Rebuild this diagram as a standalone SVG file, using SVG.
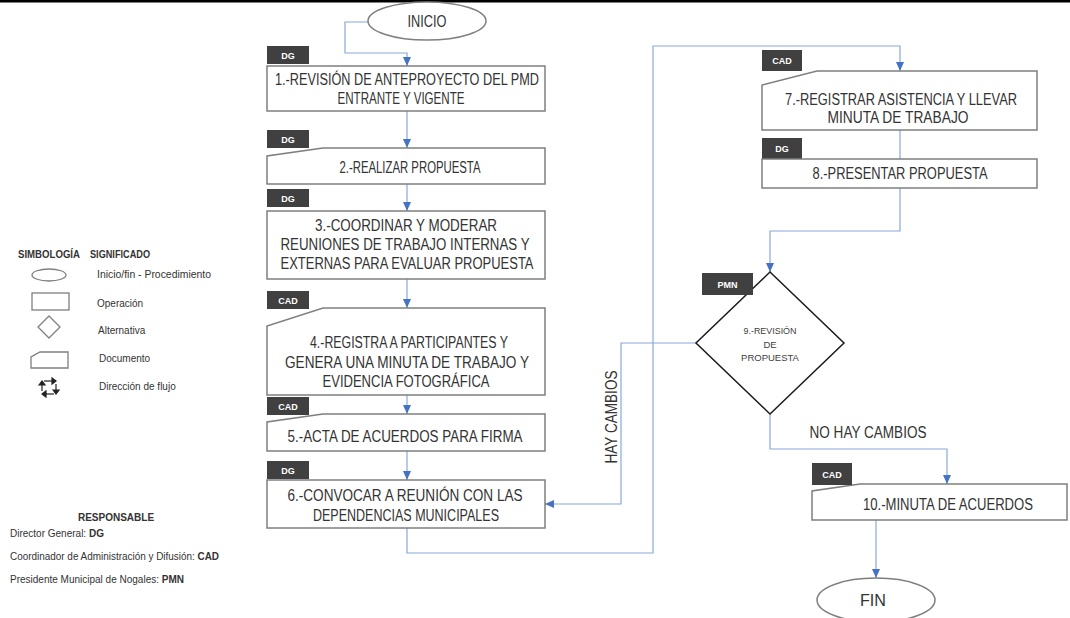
<svg xmlns="http://www.w3.org/2000/svg" width="1070" height="618" viewBox="0 0 1070 618">
<style>
.box{fill:#fff;stroke:#7f7f7f;stroke-width:1.5}
.dia{fill:#fff;stroke:#1a1a1a;stroke-width:1.5}
.lbl{fill:#404040}
.lt{fill:#fff;font-family:"Liberation Sans",Arial,sans-serif;font-weight:bold;font-size:9px;text-anchor:middle}
.t{fill:#333;font-family:"Liberation Sans",Arial,sans-serif;font-size:16px;text-anchor:middle}
.ts{fill:#404040;font-family:"Liberation Sans",Arial,sans-serif;font-size:9.5px;text-anchor:middle}
.lg{fill:#333;font-family:"Liberation Sans",Arial,sans-serif;font-size:10px}
.lgb{font-weight:bold}
.sym{fill:#fff;stroke:#7f7f7f;stroke-width:1.3}
.con{fill:none;stroke:#8aa8dc;stroke-width:1.2}
</style>
<defs>
<marker id="arr" markerWidth="10" markerHeight="10" refX="9" refY="5" orient="auto" markerUnits="userSpaceOnUse">
<path d="M0,1 L9,5 L0,9 z" fill="#4472c4"/>
</marker>
</defs>
<rect x="0" y="0" width="1070" height="2.5" fill="#000"/>

<g id="legend">
<text class="lg lgb" x="18" y="258" font-size="9.5" textLength="62" lengthAdjust="spacingAndGlyphs">SIMBOLOGÍA</text>
<text class="lg lgb" x="90" y="258" font-size="9.5" textLength="60" lengthAdjust="spacingAndGlyphs">SIGNIFICADO</text>
<ellipse class="sym" cx="49" cy="275" rx="17" ry="6"/>
<text class="lg" x="97" y="278" textLength="114" lengthAdjust="spacingAndGlyphs">Inicio/fin - Procedimiento</text>
<rect class="sym" x="32" y="293" width="37" height="17"/>
<text class="lg" x="97" y="307">Operación</text>
<polygon class="sym" points="49,316 60,327 49,338 38,327"/>
<text class="lg" x="98" y="334">Alternativa</text>
<polygon class="sym" points="40,352 68,352 68,368 31,368 31,357"/>
<text class="lg" x="99" y="362">Documento</text>
<g fill="#222" stroke="#222" stroke-width="1.2">
<path d="M44,381 L52,381" fill="none"/><path d="M52,378 L56,381 L52,384 z"/>
<path d="M56,384 L56,391" fill="none"/><path d="M53,390 L56,394 L59,390 z"/>
<path d="M54,394 L46,394" fill="none"/><path d="M46,391 L42,394 L46,397 z"/>
<path d="M42,391 L42,384" fill="none"/><path d="M39,385 L42,381 L45,385 z"/>
</g>
<text class="lg" x="99" y="390">Dirección de flujo</text>
</g>

<g id="responsable">
<text class="lg lgb" x="116" y="521" text-anchor="middle" font-size="9.5">RESPONSABLE</text>
<text class="lg" x="10" y="537">Director General: <tspan class="lgb">DG</tspan></text>
<text class="lg" x="10" y="560" textLength="209" lengthAdjust="spacingAndGlyphs">Coordinador de Administración y Difusión: <tspan class="lgb">CAD</tspan></text>
<text class="lg" x="10" y="583">Presidente Municipal de Nogales: <tspan class="lgb">PMN</tspan></text>
</g>

<g id="connectors">
<path class="con" d="M368,22 H345 V53 H407 V66" marker-end="url(#arr)"/>
<path class="con" d="M407,111 V148" marker-end="url(#arr)"/>
<path class="con" d="M407,184 V211" marker-end="url(#arr)"/>
<path class="con" d="M407,279 V308" marker-end="url(#arr)"/>
<path class="con" d="M407,395 V414" marker-end="url(#arr)"/>
<path class="con" d="M407,451 V480" marker-end="url(#arr)"/>
<path class="con" d="M407,528 V553 H653 V46 H900 V71" marker-end="url(#arr)"/>
<path class="con" d="M900,130 V159"/>
<path class="con" d="M900,188 V231 H770 V272" marker-end="url(#arr)"/>
<path class="con" d="M696,343 H621 V504 H545" marker-end="url(#arr)"/>
<path class="con" d="M770,414 V449 H947 V484" marker-end="url(#arr)"/>
<path class="con" d="M876,520 V578" marker-end="url(#arr)"/>
<text class="t" x="0" y="0" transform="translate(617,417) rotate(-90)" textLength="93" lengthAdjust="spacingAndGlyphs">HAY CAMBIOS</text>
<text class="t" x="868" y="438" textLength="117" lengthAdjust="spacingAndGlyphs">NO HAY CAMBIOS</text>
</g>

<g id="inicio">
<ellipse class="box" cx="427" cy="21" rx="59" ry="19"/>
<text class="t" x="427" y="27" textLength="39" lengthAdjust="spacingAndGlyphs">INICIO</text>
</g>

<g id="n1">
<rect class="lbl" x="267" y="46" width="42" height="18"/>
<text class="lt" x="288" y="58.5">DG</text>
<rect class="box" x="267" y="66" width="278" height="45"/>
<text class="t" x="407" y="85" textLength="264" lengthAdjust="spacingAndGlyphs">1.-REVISIÓN DE ANTEPROYECTO DEL PMD</text>
<text class="t" x="401" y="104" textLength="127" lengthAdjust="spacingAndGlyphs">ENTRANTE Y VIGENTE</text>
</g>

<g id="n2">
<polygon class="box" points="323,148 545,148 545,184 267,184 267,156"/>
<rect class="lbl" x="267" y="130" width="42" height="18"/>
<text class="lt" x="288" y="142.5">DG</text>
<text class="t" x="410" y="173" textLength="141" lengthAdjust="spacingAndGlyphs">2.-REALIZAR PROPUESTA</text>
</g>

<g id="n3">
<rect class="lbl" x="267" y="189" width="42" height="18"/>
<text class="lt" x="288" y="201.5">DG</text>
<rect class="box" x="267" y="211" width="278" height="68"/>
<text class="t" x="406" y="231" textLength="182" lengthAdjust="spacingAndGlyphs">3.-COORDINAR Y MODERAR</text>
<text class="t" x="405" y="250" textLength="249" lengthAdjust="spacingAndGlyphs">REUNIONES DE TRABAJO INTERNAS Y</text>
<text class="t" x="407" y="269" textLength="253" lengthAdjust="spacingAndGlyphs">EXTERNAS PARA EVALUAR PROPUESTA</text>
</g>

<g id="n4">
<polygon class="box" points="323,308 545,308 545,395 267,395 267,326"/>
<rect class="lbl" x="267" y="291" width="42" height="18"/>
<text class="lt" x="288" y="303.5">CAD</text>
<text class="t" x="409" y="348" textLength="198" lengthAdjust="spacingAndGlyphs">4.-REGISTRA A PARTICIPANTES Y</text>
<text class="t" x="407" y="368" textLength="244" lengthAdjust="spacingAndGlyphs">GENERA UNA MINUTA DE TRABAJO Y</text>
<text class="t" x="406" y="387" textLength="167" lengthAdjust="spacingAndGlyphs">EVIDENCIA FOTOGRÁFICA</text>
</g>

<g id="n5">
<polygon class="box" points="323,414 545,414 545,451 267,451 267,422"/>
<rect class="lbl" x="267" y="397" width="42" height="18"/>
<text class="lt" x="288" y="409.5">CAD</text>
<text class="t" x="405" y="442" textLength="235" lengthAdjust="spacingAndGlyphs">5.-ACTA DE ACUERDOS PARA FIRMA</text>
</g>

<g id="n6">
<rect class="lbl" x="267" y="461" width="42" height="18"/>
<text class="lt" x="288" y="473.5">DG</text>
<rect class="box" x="267" y="480" width="278" height="48"/>
<text class="t" x="405" y="501" textLength="235" lengthAdjust="spacingAndGlyphs">6.-CONVOCAR A REUNIÓN CON LAS</text>
<text class="t" x="406" y="521" textLength="186" lengthAdjust="spacingAndGlyphs">DEPENDENCIAS MUNICIPALES</text>
</g>

<g id="n7">
<polygon class="box" points="817,71 1037,71 1037,130 762,130 762,85"/>
<rect class="lbl" x="762" y="50" width="40" height="21"/>
<text class="lt" x="782" y="64">CAD</text>
<text class="t" x="901" y="105" font-size="13.5" textLength="232" lengthAdjust="spacingAndGlyphs">7.-REGISTRAR ASISTENCIA Y LLEVAR</text>
<text class="t" x="898" y="123" textLength="141" lengthAdjust="spacingAndGlyphs">MINUTA DE TRABAJO</text>
</g>

<g id="n8">
<rect class="lbl" x="762" y="138" width="40" height="21"/>
<text class="lt" x="782" y="152">DG</text>
<rect class="box" x="762" y="159" width="275" height="29"/>
<text class="t" x="900" y="179" textLength="175" lengthAdjust="spacingAndGlyphs">8.-PRESENTAR PROPUESTA</text>
</g>

<g id="n9">
<polygon class="dia" points="770,272 844,343 770,414 696,343"/>
<rect class="lbl" x="702" y="273" width="51" height="22"/>
<text class="lt" x="727.5" y="287.5">PMN</text>
<text class="ts" x="770" y="334" textLength="53" lengthAdjust="spacingAndGlyphs">9.-REVISIÓN</text>
<text class="ts" x="770" y="347.5">DE</text>
<text class="ts" x="770" y="361">PROPUESTA</text>
</g>

<g id="n10">
<polygon class="box" points="860,484 1067,484 1067,520 812,520 812,491"/>
<rect class="lbl" x="812" y="463" width="40" height="22"/>
<text class="lt" x="832" y="477.5">CAD</text>
<text class="t" x="948" y="510" font-size="15" textLength="170" lengthAdjust="spacingAndGlyphs">10.-MINUTA DE ACUERDOS</text>
</g>

<g id="fin">
<ellipse class="box" cx="876" cy="600" rx="59" ry="22"/>
<text class="t" x="873" y="606" textLength="26" lengthAdjust="spacingAndGlyphs">FIN</text>
</g>
</svg>
